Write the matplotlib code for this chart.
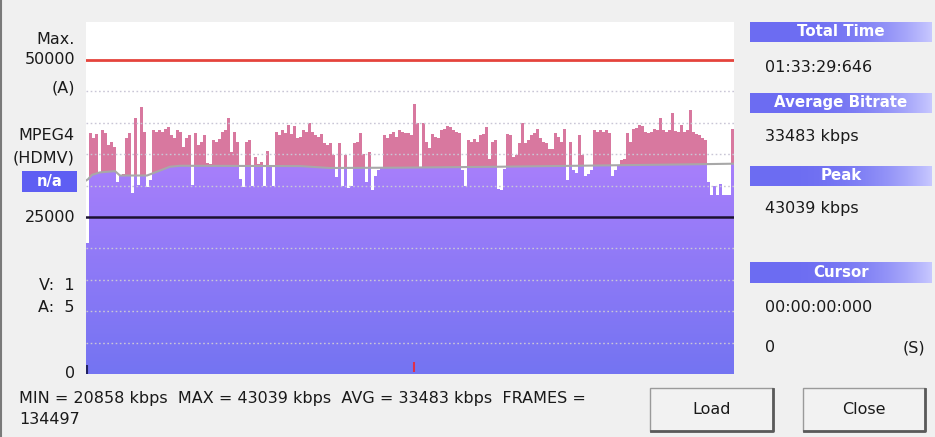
import numpy as np
import matplotlib
matplotlib.use('Agg')
import matplotlib.pyplot as plt
from matplotlib.patches import Rectangle
from matplotlib.lines import Line2D

# ---------------- data ----------------
total_seconds = 5609.646
bitrate_kbps = [
    20858, 38400, 37500, 38200, 32000, 38800, 38300, 36500, 37000, 36200,
    30500, 31700, 31900, 37500, 38400, 28800, 40700, 30100, 42500, 38500,
    29800, 30900, 38800, 38500, 38900, 38600, 39000, 39300, 38000, 37500,
    38800, 38500, 36200, 37500, 38000, 30100, 38300, 36500, 37000, 38000,
    33600, 33400, 37200, 37000, 37400, 38500, 38800, 40700, 35300, 38500,
    37000, 31000, 29800, 37000, 37300, 30000, 34500, 33500, 33800, 30000,
    35500, 33000, 30000, 38500, 38000, 38800, 38300, 39600, 38200, 39500,
    37500, 37800, 38800, 38500, 40000, 38500, 38000, 37800, 38200, 36700,
    36500, 36800, 34800, 31300, 36700, 30000, 34800, 29600, 30000, 36700,
    37000, 38300, 35000, 30500, 35300, 29300, 31500, 32500, 32800, 38000,
    37500, 38200, 38500, 37800, 38800, 38600, 38300, 38300, 38000, 43039,
    40000, 32800, 40000, 37000, 36000, 38200, 37700, 37500, 38800, 39000,
    39500, 39300, 38800, 38600, 38300, 32500, 30000, 37200, 37000, 37400,
    37000, 38000, 38200, 39300, 34200, 37000, 37200, 29500, 29300, 32600,
    38200, 38000, 34500, 34800, 36800, 40000, 36700, 37200, 38000, 38300,
    39000, 37500, 37000, 36800, 35800, 35800, 38300, 37800, 37000, 39000,
    30900, 37000, 32500, 32000, 38000, 34800, 31500, 31800, 32500, 38800,
    38500, 38800, 38600, 38800, 38300, 31500, 32500, 33300, 34000, 34200,
    38300, 37000, 39000, 39200, 39700, 39500, 38500, 38300, 38600, 39000,
    38800, 40700, 38800, 38600, 38900, 41500, 38700, 38500, 39700, 38600,
    38800, 42000, 38500, 38200, 38000, 37500, 37200, 30500, 28500, 30000,
    28500, 30200, 28500, 28500, 28500, 39000,
]
avg_times = [0, 17, 52, 121, 251, 294, 528, 641, 727, 814, 1852, 2112,
             2718, 3584, 4449, 5315, 5610]
avg_kbps = [30800, 31000, 31700, 32100, 32300, 31600, 31600, 32400, 33000,
            33150, 33100, 32800, 32850, 33000, 33200, 33400, 33483]
grid_levels = [5000, 10000, 15000, 20000, 30000, 35000, 40000, 45000]
max_level = 50000
mid_level = 25000
y_top = 56040

left_labels = [("Max.", 40), ("50000", 60), ("(A)", 88), ("MPEG4", 136),
               ("(HDMV)", 158), ("25000", 217), ("V:  1", 286),
               ("A:  5", 307), ("0", 373)]
headers = [("Total Time", 22, 42), ("Average Bitrate", 93, 113),
           ("Peak", 166, 186), ("Cursor", 262, 283)]
values = [("01:33:29:646", 67), ("33483 kbps", 136), ("43039 kbps", 209),
          ("00:00:00:000", 307), ("0", 348)]
stats_line1 = "MIN = 20858 kbps  MAX = 43039 kbps  AVG = 33483 kbps  FRAMES ="
stats_line2 = "134497"

# ---------------- figure ----------------
W, H = 935, 437
fig = plt.figure(figsize=(9.35, 4.37), dpi=100, facecolor='#f0f0f0')
FONT = 'DejaVu Sans'
FS = 11.5


def fx(px):
    return px / W


def fy(py):
    return 1 - py / H


ax = fig.add_axes([fx(86), fy(374), (734 - 86) / W, (374 - 22) / H])
pink = '#d8789f'
ax.set_facecolor(pink)
for s in ax.spines.values():
    s.set_visible(False)
ax.set_xticks([])
ax.set_yticks([])

n = len(bitrate_kbps)
dt = total_seconds / n
edges = np.arange(n + 1) * dt
vals = np.array(bitrate_kbps + [bitrate_kbps[-1]], dtype=float)

# purple gradient below the running-average line
bottom_c = np.array([0x74, 0x74, 0xf2]) / 255
top_c = np.array([0xa9, 0x7f, 0xfb]) / 255
s = np.linspace(0, 1, 256)[:, None]
grad = bottom_c + (top_c - bottom_c) * s
img = ax.imshow(grad[:, None, :], extent=[0, total_seconds, 0, 34500],
                origin='lower', aspect='auto', zorder=2,
                interpolation='bilinear')
poly = ax.fill_between(avg_times, avg_kbps, 0, color='none', lw=0)
img.set_clip_path(poly.get_paths()[0], transform=ax.transData)

# white above the bars
ax.fill_between(edges, vals, y_top, step='post', color='white', lw=0,
                zorder=3)

# running average line
ax.plot(avg_times, avg_kbps, color='#a8a8a8', lw=1.5, zorder=4)

# grid
for lv in grid_levels:
    ax.axhline(lv, color='#c9c6d6', lw=1, ls=(0, (1.2, 1.8)), zorder=5)
ax.axhline(max_level, color='#e5443c', lw=2, zorder=6)
ax.axhline(mid_level, color='#1c1230', lw=1.8, zorder=6)

# markers at the bottom
peak_t = (int(np.argmax(bitrate_kbps)) + 0.5) * dt
ax.vlines([peak_t], 300, 1900, color='#e0304a', lw=1.5, zorder=7)
ax.vlines([9], 0, 1500, color='#202060', lw=1.5, zorder=7)

ax.set_xlim(0, total_seconds)
ax.set_ylim(0, y_top)

# ---------------- texts ----------------
def T(px, py, s, ha='left', size=FS, color='#1a1a1a', weight='normal'):
    fig.text(fx(px), fy(py), s, ha=ha, va='center', fontsize=size,
             color=color, fontweight=weight, family=FONT)


for lab, py in left_labels:
    T(75, py, lab, ha='right')

# n/a box
fig.add_artist(Rectangle((fx(22), fy(192)), (77 - 22) / W, (192 - 171) / H,
                         transform=fig.transFigure, facecolor='#5e5ef3',
                         edgecolor='none'))
T(49.5, 181.5, "n/a", ha='center', size=10.5, color='white', weight='bold')

T(19, 398, stats_line1)
T(19, 420, stats_line2)

# right panel headers
row = np.linspace(0, 1, 256)
c_left = np.array([0x6c, 0x6c, 0xf2]) / 255
c_right = np.array([0xc8, 0xc8, 0xff]) / 255
hgrad = c_left + (c_right - c_left) * (row[:, None] ** 3)
for lab, y0, y1 in headers:
    hax = fig.add_axes([fx(750), fy(y1), (932 - 750) / W, (y1 - y0) / H])
    hax.imshow(hgrad[None, :, :], aspect='auto', extent=[0, 1, 0, 1],
               interpolation='bilinear')
    hax.set_axis_off()
    hax.text(0.5, 0.5, lab, ha='center', va='center', color='white',
             fontweight='bold', fontsize=10.8, family=FONT,
             transform=hax.transAxes)

for lab, py in values:
    T(765, py, lab)
T(925, 348, "(S)", ha='right')


# buttons
def button(x0, y0, x1, y1, label):
    fig.add_artist(Rectangle((fx(x0), fy(y1)), (x1 - x0) / W, (y1 - y0) / H,
                             transform=fig.transFigure, facecolor='#f2f2f2',
                             edgecolor='#9a9a9a', lw=1))
    fig.add_artist(Line2D([fx(x0 + 1), fx(x1), fx(x1)],
                          [fy(y1), fy(y1), fy(y0 + 1)],
                          transform=fig.transFigure, color='#5a5a5a', lw=2))
    T((x0 + x1) / 2, (y0 + y1) / 2, label, ha='center')


button(650, 388, 773, 431, "Load")
button(803, 388, 925, 431, "Close")

# window left edge
fig.add_artist(Line2D([fx(1), fx(1)], [0, 1], transform=fig.transFigure,
                      color='#7a7a7a', lw=1.5))

fig.savefig('out.png', dpi=100, facecolor=fig.get_facecolor())
